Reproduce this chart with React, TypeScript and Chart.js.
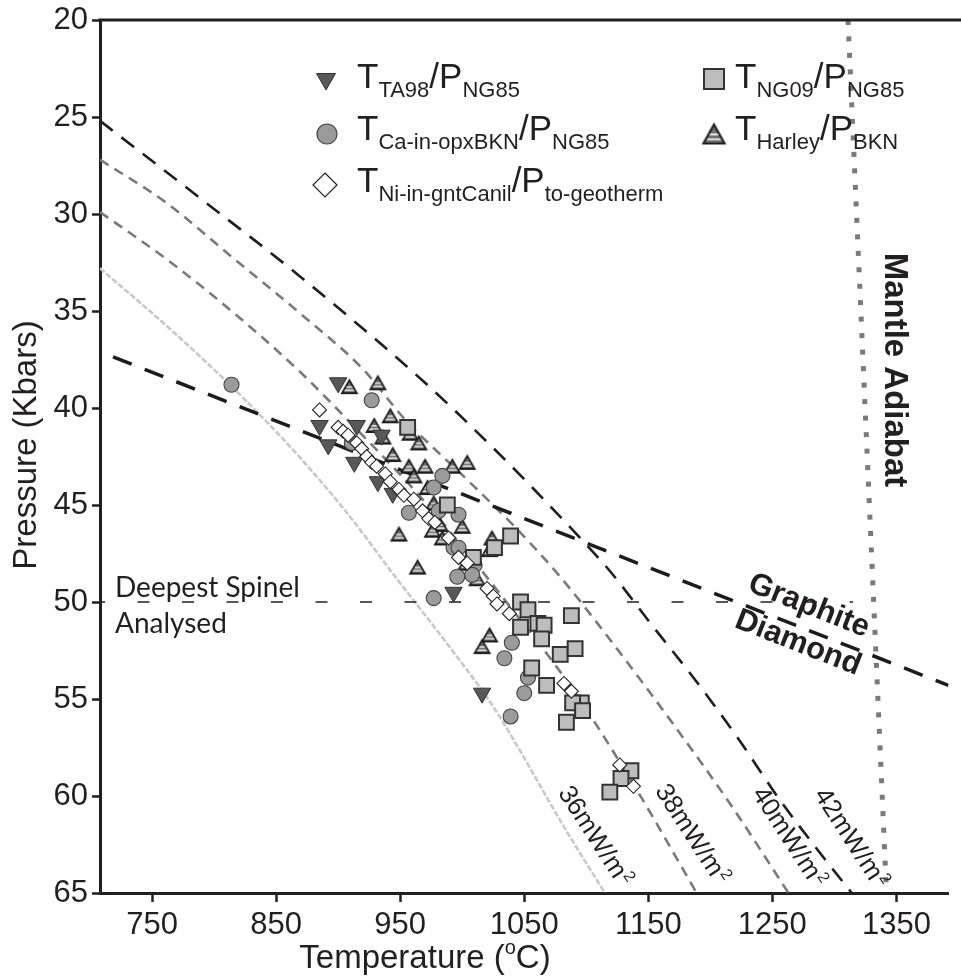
import React, { useEffect, useRef } from 'react';
import { Chart, registerables } from 'chart.js';

Chart.register(...registerables);

// ---------- axis ticks ----------
const X_TICKS = [750, 850, 950, 1050, 1150, 1250, 1350];
const Y_TICKS = [20, 25, 30, 35, 40, 45, 50, 55, 60, 65];

// ---------- data series: [Temperature °C, Pressure kbar] ----------
const ta98: [number, number][] = [
  [900, 38.7], [885, 40.9], [915, 40.9], [892, 41.9], [913, 42.8], [932, 43.8],
  [944, 44.4], [935, 41.4], [993, 49.5], [1016, 54.7],
];

const caInOpx: [number, number][] = [
  [814, 38.8], [927, 39.6], [911, 41.8], [984, 43.5], [977, 44.1], [957, 45.4],
  [981, 45.3], [997, 45.5], [993, 47.2], [997, 47.2], [1010, 48.1], [996, 48.7],
  [1008, 48.6], [977, 49.8], [1040, 52.1], [1034, 52.9], [1053, 53.9], [1050, 54.7],
  [1039, 55.9],
];

const niInGnt: [number, number][] = [
  [885, 40.1], [900, 41.0], [904, 41.2], [908, 41.4], [915, 41.8], [919, 42.1],
  [923, 42.5], [927, 42.8], [931, 43.0], [938, 43.4], [942, 43.8], [949, 44.2],
  [953, 44.5], [961, 44.7], [968, 45.3], [973, 45.7], [978, 45.9], [989, 46.7],
  [997, 47.7], [1004, 48.0], [1020, 49.3], [1025, 49.7], [1028, 50.1], [1038, 50.6],
  [1082, 54.2], [1088, 54.6], [1127, 58.4], [1138, 59.5],
];

const ng09: [number, number][] = [
  [956, 41.0], [988, 45.0], [1039, 46.6], [1026, 47.2], [1009, 47.7], [1047, 50.0],
  [1053, 50.4], [1088, 50.7], [1047, 51.3], [1061, 51.1], [1066, 51.2], [1064, 51.9],
  [1079, 52.7], [1091, 52.4], [1056, 53.4], [1068, 54.3], [1096, 55.2], [1089, 55.2],
  [1097, 55.6], [1084, 56.2], [1136, 58.7], [1128, 59.1], [1119, 59.8],
];

const harley: [number, number][] = [
  [909, 38.9], [932, 38.7], [929, 40.9], [942, 40.4], [936, 41.5], [958, 41.3],
  [965, 41.8], [944, 42.4], [957, 43.0], [970, 43.0], [961, 43.5], [992, 43.0],
  [1004, 42.8], [972, 44.1], [977, 44.9], [982, 46.0], [1000, 46.1], [976, 46.3],
  [984, 46.7], [949, 46.5], [1024, 46.7], [1022, 47.3], [1003, 48.0], [1012, 48.8],
  [964, 48.2], [1022, 51.7], [1016, 52.3],
];

// ---------- reference lines ----------
const geo36: [number, number][] = [
  [708, 32.8], [764, 35.9], [819, 39.2], [867, 42.4], [907, 45.4], [946, 48.7],
  [986, 52.0], [1026, 55.5], [1084, 61.8], [1115, 65],
];
const geo38: [number, number][] = [
  [708, 29.9], [761, 32.3], [814, 35.0], [867, 38.0], [915, 41.1], [961, 44.2],
  [1002, 47.3], [1038, 50.2], [1088, 54.4], [1138, 59.4], [1189, 65],
];
const geo40: [number, number][] = [
  [708, 27.2], [761, 29.4], [814, 32.2], [867, 35.0], [920, 38.0], [954, 40.6],
  [1004, 43.7], [1042, 46.1], [1079, 48.7], [1121, 52.1], [1169, 56.2], [1217, 60.5],
  [1263, 65],
];
const geo42: [number, number][] = [
  [708, 25.2], [787, 29.1], [867, 33.1], [970, 38.7], [1024, 42.0], [1058, 44.2],
  [1095, 46.7], [1119, 48.4], [1153, 51.2], [1190, 54.2], [1222, 57.0], [1256, 60.2],
  [1288, 62.9], [1314, 65],
];
const graphiteDiamond: [number, number][] = [[708, 37.1], [1392, 54.3]];
const mantleAdiabat: [number, number][] = [[1311, 20], [1342, 65]];
const deepestSpinel: [number, number][] = [[708, 50], [1315, 50]];

const FONT = '"Liberation Sans", Arial, Helvetica, sans-serif';
const INK = '#231f20';
const AREA = { left: 100, top: 20, right: 961, bottom: 893 };

const pts = (a: [number, number][]) => a.map(([x, y]) => ({ x, y }));

function makeStriped(w: number, h: number, lw: number): HTMLCanvasElement {
  const c = document.createElement('canvas');
  const pad = Math.ceil(lw) + 1;
  c.width = w + pad * 2;
  c.height = h + pad * 2;
  const g = c.getContext('2d')!;
  const path = () => {
    g.beginPath();
    g.moveTo(pad + w / 2, pad);
    g.lineTo(pad + w, pad + h);
    g.lineTo(pad, pad + h);
    g.closePath();
  };
  path();
  g.fillStyle = '#6f6f6f';
  g.fill();
  g.save();
  path();
  g.clip();
  g.strokeStyle = '#ffffff';
  g.lineWidth = Math.max(1.2, lw * 0.7);
  for (const f of [0.52, 0.78]) {
    g.beginPath();
    g.moveTo(0, pad + h * f);
    g.lineTo(c.width, pad + h * f);
    g.stroke();
  }
  g.restore();
  path();
  g.strokeStyle = '#1e1e1e';
  g.lineWidth = lw;
  g.lineJoin = 'miter';
  g.stroke();
  return c;
}

type Part = { t: string; sub?: boolean };
function drawRich(ctx: CanvasRenderingContext2D, x: number, y: number, parts: Part[]) {
  let cx = x;
  for (const p of parts) {
    ctx.font = p.sub ? `22px ${FONT}` : `35px ${FONT}`;
    ctx.fillText(p.t, cx, p.sub ? y + 9 : y);
    cx += ctx.measureText(p.t).width;
  }
}

function drawSupLabel(
  ctx: CanvasRenderingContext2D,
  cx: number,
  cy: number,
  deg: number,
  main: string,
  sup: string,
  size: number,
) {
  ctx.save();
  ctx.translate(cx, cy);
  ctx.rotate((deg * Math.PI) / 180);
  ctx.font = `${size}px ${FONT}`;
  const w1 = ctx.measureText(main).width;
  ctx.font = `${size * 0.62}px ${FONT}`;
  const w2 = ctx.measureText(sup).width;
  const x0 = -(w1 + w2) / 2;
  const base = size * 0.36;
  ctx.textAlign = 'left';
  ctx.textBaseline = 'alphabetic';
  ctx.fillStyle = INK;
  ctx.font = `${size}px ${FONT}`;
  ctx.fillText(main, x0, base);
  ctx.font = `${size * 0.62}px ${FONT}`;
  ctx.fillText(sup, x0 + w1 + 1, base - size * 0.38);
  ctx.restore();
}

function drawRotText(
  ctx: CanvasRenderingContext2D,
  text: string,
  cx: number,
  cy: number,
  deg: number,
  font: string,
) {
  ctx.save();
  ctx.translate(cx, cy);
  ctx.rotate((deg * Math.PI) / 180);
  ctx.font = font;
  ctx.textAlign = 'center';
  ctx.textBaseline = 'middle';
  ctx.fillStyle = INK;
  ctx.fillText(text, 0, 0);
  ctx.restore();
}

export default function App() {
  const ref = useRef<HTMLCanvasElement>(null);

  useEffect(() => {
    const canvas = ref.current;
    if (!canvas) return;
    const stripeSmall = makeStriped(15, 13, 1.8);
    const stripeBig = makeStriped(21, 19, 2.2);

    const overlay = {
      id: 'overlay',
      afterDraw(chart: any) {
        const ctx: CanvasRenderingContext2D = chart.ctx;
        const area = chart.chartArea;
        ctx.save();
        // top frame line
        ctx.strokeStyle = INK;
        ctx.lineWidth = 3;
        ctx.beginPath();
        ctx.moveTo(area.left - 1.5, area.top);
        ctx.lineTo(chart.width, area.top);
        ctx.stroke();

        // ---- legend markers ----
        const triR = 11;
        ctx.beginPath();
        const tx = 326, ty = 79;
        for (let i = 0; i < 3; i++) {
          const a = Math.PI + (i * 2 * Math.PI) / 3;
          const px = tx + Math.sin(a) * triR;
          const py = ty - Math.cos(a) * triR;
          if (i === 0) ctx.moveTo(px, py);
          else ctx.lineTo(px, py);
        }
        ctx.closePath();
        ctx.fillStyle = '#585858';
        ctx.fill();
        ctx.strokeStyle = '#333';
        ctx.lineWidth = 1;
        ctx.stroke();
        ctx.beginPath();
        ctx.arc(327, 134, 10, 0, Math.PI * 2);
        ctx.fillStyle = '#9b9b9b';
        ctx.fill();
        ctx.strokeStyle = '#444';
        ctx.lineWidth = 1.2;
        ctx.stroke();
        ctx.beginPath();
        ctx.moveTo(325, 173);
        ctx.lineTo(337, 185);
        ctx.lineTo(325, 197);
        ctx.lineTo(313, 185);
        ctx.closePath();
        ctx.fillStyle = '#fff';
        ctx.fill();
        ctx.strokeStyle = '#222';
        ctx.lineWidth = 1.2;
        ctx.stroke();
        ctx.fillStyle = '#bdbdbd';
        ctx.fillRect(704, 69, 20, 20);
        ctx.strokeStyle = '#333';
        ctx.lineWidth = 2;
        ctx.strokeRect(704, 69, 20, 20);
        ctx.drawImage(stripeBig, 714 - stripeBig.width / 2, 134 - stripeBig.height / 2);

        // ---- legend text ----
        ctx.fillStyle = INK;
        ctx.textAlign = 'left';
        ctx.textBaseline = 'alphabetic';
        drawRich(ctx, 357, 88, [{ t: 'T' }, { t: 'TA98', sub: true }, { t: '/P' }, { t: 'NG85', sub: true }]);
        drawRich(ctx, 357, 140, [{ t: 'T' }, { t: 'Ca-in-opxBKN', sub: true }, { t: '/P' }, { t: 'NG85', sub: true }]);
        drawRich(ctx, 357, 192, [{ t: 'T' }, { t: 'Ni-in-gntCanil', sub: true }, { t: '/P' }, { t: 'to-geotherm', sub: true }]);
        drawRich(ctx, 735, 88, [{ t: 'T' }, { t: 'NG09', sub: true }, { t: '/P' }, { t: 'NG85', sub: true }]);
        drawRich(ctx, 735, 140, [{ t: 'T' }, { t: 'Harley', sub: true }, { t: '/P' }, { t: 'BKN', sub: true }]);

        // ---- axis titles ----
        ctx.fillStyle = INK;
        ctx.textBaseline = 'alphabetic';
        {
          const a = 'Temperature (';
          const b = 'C)';
          ctx.font = `33px ${FONT}`;
          const wa = ctx.measureText(a).width;
          const wb = ctx.measureText(b).width;
          ctx.font = `20px ${FONT}`;
          const ws = ctx.measureText('o').width;
          const total = wa + ws + wb;
          const x0 = 425 - total / 2;
          ctx.font = `33px ${FONT}`;
          ctx.fillText(a, x0, 968);
          ctx.font = `20px ${FONT}`;
          ctx.fillText('o', x0 + wa, 954);
          ctx.font = `33px ${FONT}`;
          ctx.fillText(b, x0 + wa + ws, 968);
        }
        drawRotText(ctx, 'Pressure (Kbars)', 27, 445, -90, `33px ${FONT}`);

        // ---- geotherm labels ----
        drawSupLabel(ctx, 596, 835, 57, '36mW/m', '2', 26);
        drawSupLabel(ctx, 693, 833, 57, '38mW/m', '2', 26);
        drawSupLabel(ctx, 790, 836, 57, '40mW/m', '2', 26);
        drawSupLabel(ctx, 852, 837, 57, '42mW/m', '2', 26);

        // ---- other annotations ----
        drawRotText(ctx, 'Graphite', 809, 606, 21.5, `bold 31px ${FONT}`);
        drawRotText(ctx, 'Diamond', 798, 643, 21.5, `bold 31px ${FONT}`);
        drawRotText(ctx, 'Mantle Adiabat', 894, 370, 90, `bold 33px ${FONT}`);

        ctx.fillStyle = INK;
        ctx.textAlign = 'left';
        ctx.textBaseline = 'alphabetic';
        ctx.font = `28px Lato, "Open Sans", sans-serif`;
        ctx.fillText('Deepest Spinel', 115, 597);
        ctx.fillText('Analysed', 115, 633);
        ctx.restore();
      },
    };

    const lineDs = (
      label: string,
      data: [number, number][],
      color: string,
      width: number,
      dash: number[],
      offset = 0,
    ) => ({
      label,
      data: pts(data),
      showLine: true,
      borderColor: color,
      borderWidth: width,
      borderDash: dash,
      borderDashOffset: offset,
      borderCapStyle: 'butt',
      pointRadius: 0,
      pointHoverRadius: 0,
      fill: false,
      cubicInterpolationMode: 'monotone',
    });

    const chart: any = new Chart(canvas, {
      type: 'scatter',
      data: {
        datasets: [
          {
            label: 'Ni-in-gnt',
            data: pts(niInGnt),
            pointStyle: 'rectRot',
            pointRadius: 7,
            backgroundColor: '#ffffff',
            borderColor: '#222',
            borderWidth: 1.1,
          },
          {
            label: 'NG09',
            data: pts(ng09),
            pointStyle: 'rect',
            pointRadius: 10.5,
            backgroundColor: '#bdbdbd',
            borderColor: '#333',
            borderWidth: 2,
          },
          {
            label: 'Ca-in-opx',
            data: pts(caInOpx),
            pointStyle: 'circle',
            pointRadius: 7.5,
            backgroundColor: '#9b9b9b',
            borderColor: '#444',
            borderWidth: 1.1,
          },
          {
            label: 'TA98',
            data: pts(ta98),
            pointStyle: 'triangle',
            rotation: 180,
            pointRadius: 10,
            backgroundColor: '#585858',
            borderColor: '#333',
            borderWidth: 1,
          },
          {
            label: 'Harley',
            data: pts(harley),
            pointStyle: stripeSmall,
            pointRadius: 8,
          },
          lineDs('spinel', deepestSpinel, INK, 1.3, [12, 32.5], 7),
          lineDs('adiabat', mantleAdiabat, '#7a7a7a', 5, [5, 11.5]),
          lineDs('gd', graphiteDiamond, '#1c1c1c', 3.5, [20, 14], 20),
          lineDs('42', geo42, '#1f1f1f', 2.6, [16, 11]),
          lineDs('40', geo40, '#7a7a7a', 2.6, [10, 7]),
          lineDs('38', geo38, '#7a7a7a', 2.6, [10, 7]),
          lineDs('36', geo36, '#c9c9c9', 2.6, [6, 2]),
        ] as any,
      },
      options: {
        animation: false,
        responsive: false,
        devicePixelRatio: 1,
        events: [],
        layout: { padding: { top: AREA.top, right: 0, left: 0, bottom: 0 } },
        plugins: {
          legend: { display: false },
          tooltip: { enabled: false },
        },
        scales: {
          x: {
            type: 'linear',
            min: 708,
            max: 1392,
            afterBuildTicks: (s: any) => {
              s.ticks = X_TICKS.map((v) => ({ value: v }));
            },
            afterFit: (s: any) => {
              s.height = 978 - AREA.bottom;
              s.paddingLeft = 0;
              s.paddingRight = 0;
            },
            grid: {
              display: true,
              drawOnChartArea: false,
              drawTicks: true,
              tickLength: 9,
              tickWidth: 2.5,
              tickColor: INK,
            },
            border: { display: true, color: INK, width: 3 },
            ticks: {
              color: INK,
              font: { family: FONT, size: 31 },
              padding: 5,
              maxRotation: 0,
              autoSkip: false,
              callback: (v: any) => String(v),
            },
          },
          y: {
            type: 'linear',
            reverse: true,
            min: 20,
            max: 65,
            afterBuildTicks: (s: any) => {
              s.ticks = Y_TICKS.map((v) => ({ value: v }));
            },
            afterFit: (s: any) => {
              s.width = AREA.left;
              s.paddingTop = 0;
              s.paddingBottom = 0;
            },
            grid: {
              display: true,
              drawOnChartArea: false,
              drawTicks: true,
              tickLength: 8,
              tickWidth: 2.5,
              tickColor: INK,
            },
            border: { display: true, color: INK, width: 3 },
            ticks: {
              color: INK,
              font: { family: FONT, size: 31 },
              padding: 4,
              autoSkip: false,
              callback: (v: any) => String(v),
            },
          },
        },
      } as any,
      plugins: [overlay],
    });

    // correct any extra padding Chart.js reserved, so the plot area lands where intended
    const a = chart.chartArea;
    const pad = chart.options.layout.padding;
    const dr = AREA.right - a.right;
    const dt = a.top - AREA.top;
    if (Math.abs(dr) > 0.3 || Math.abs(dt) > 0.3) {
      chart.options.layout.padding = {
        top: (pad.top ?? AREA.top) - dt,
        right: (pad.right ?? 0) - dr,
        left: 0,
        bottom: 0,
      };
      chart.update('none');
    }
    return () => chart.destroy();
  }, []);

  return (
    <div style={{ position: 'absolute', left: 0, top: 0, width: 961, height: 978, background: '#fff' }}>
      <canvas ref={ref} width={961} height={978} style={{ display: 'block', width: 961, height: 978 }} />
    </div>
  );
}
